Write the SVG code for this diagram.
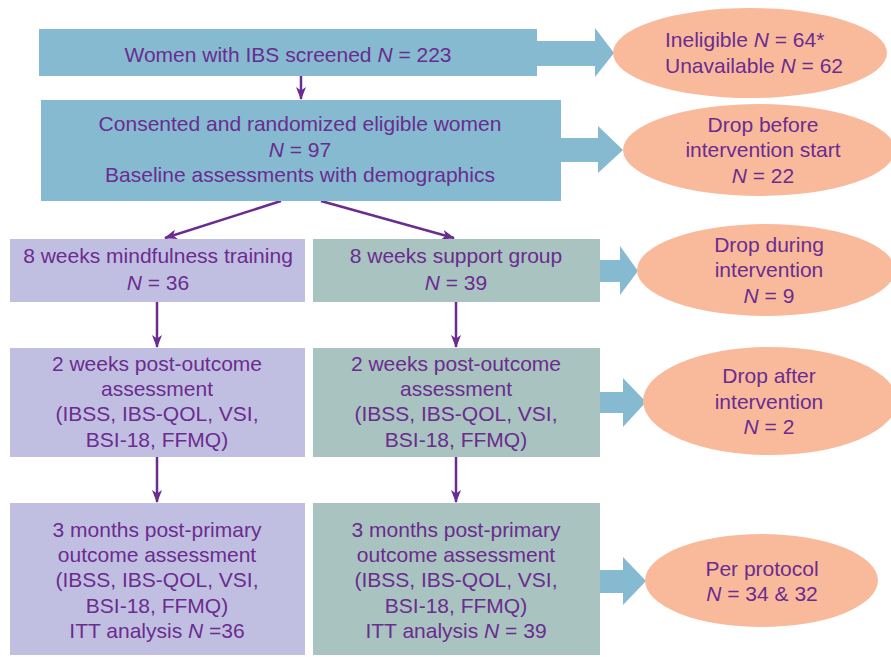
<svg xmlns="http://www.w3.org/2000/svg" width="891" height="657" viewBox="0 0 891 657">
<defs>
<style>
.t{font-family:"Liberation Sans",Arial,sans-serif;font-size:21px;fill:#6B2C8F;text-anchor:middle}
.l{text-anchor:start}
.i{font-style:italic}
.blue{fill:#85BAD1}
.lav{fill:#C1BFE1}
.teal{fill:#A8C3C0}
.ell{fill:#F9BA9C}
.fat{fill:#85BAD1}
.con{stroke:#6B2C8F;stroke-width:2.5;fill:none;marker-end:url(#ah)}
</style>
<marker id="ah" viewBox="0 0 13 10" refX="12" refY="5" markerWidth="13" markerHeight="10" markerUnits="userSpaceOnUse" orient="auto">
<path d="M0,0 L13,5 L0,10 L3.5,5 Z" fill="#6B2C8F"/>
</marker>
</defs>
<rect width="891" height="657" fill="#fff"/>
<g id="connectors">
<line class="con" x1="301" y1="76" x2="301" y2="99"/>
<line class="con" x1="281" y1="201" x2="165" y2="238"/>
<line class="con" x1="321" y1="201" x2="454" y2="238"/>
<line class="con" x1="157" y1="302" x2="157" y2="347"/>
<line class="con" x1="456" y1="302" x2="456" y2="347"/>
<line class="con" x1="157" y1="457" x2="157" y2="502"/>
<line class="con" x1="456" y1="457" x2="456" y2="502"/>
<polygon class="fat" points="536,41 595,41 595,28 614,53 595,77 595,66 536,66"/>
<polygon class="fat" points="560,138 598,138 598,126 623,150 598,173 598,162 560,162"/>
<polygon class="fat" points="599,260 620,260 620,246 638,271 620,295 620,282 599,282"/>
<polygon class="fat" points="599,392 623,392 623,378 646,402 623,427 623,413 599,413"/>
<polygon class="fat" points="599,570 623,570 623,557 646,581 623,605 623,593 599,593"/>
</g>
<g id="screened">
<rect class="blue" x="39" y="29" width="498" height="47"/>
<text class="t" x="288" y="62">Women with IBS screened <tspan class="i">N</tspan> = 223</text>
</g>
<g id="ineligible">
<ellipse class="ell" cx="750" cy="53" rx="137" ry="45"/>
<text class="t l" x="665" y="47">Ineligible <tspan class="i">N</tspan> = 64*</text>
<text class="t l" x="665" y="73">Unavailable <tspan class="i">N</tspan> = 62</text>
</g>
<g id="randomized">
<rect class="blue" x="41" y="100" width="520" height="101"/>
<text class="t" x="300" y="131">Consented and randomized eligible women</text>
<text class="t" x="300" y="157"><tspan class="i">N</tspan> = 97</text>
<text class="t" x="300" y="182">Baseline assessments with demographics</text>
</g>
<g id="drop-before">
<ellipse class="ell" cx="759" cy="150" rx="136" ry="46"/>
<text class="t" x="763" y="132">Drop before</text>
<text class="t" x="763" y="157">intervention start</text>
<text class="t" x="763" y="183"><tspan class="i">N</tspan> = 22</text>
</g>
<g id="mindfulness">
<rect class="lav" x="10" y="239" width="295" height="63"/>
<text class="t" x="158" y="263">8 weeks mindfulness training</text>
<text class="t" x="158" y="290"><tspan class="i">N</tspan> = 36</text>
</g>
<g id="support">
<rect class="teal" x="313" y="239" width="287" height="63"/>
<text class="t" x="456" y="263">8 weeks support group</text>
<text class="t" x="456" y="290"><tspan class="i">N</tspan> = 39</text>
</g>
<g id="drop-during">
<ellipse class="ell" cx="766" cy="270" rx="129" ry="46"/>
<text class="t" x="769" y="252">Drop during</text>
<text class="t" x="769" y="277">intervention</text>
<text class="t" x="769" y="303"><tspan class="i">N</tspan> = 9</text>
</g>
<g id="post-mindfulness">
<rect class="lav" x="10" y="348" width="295" height="109"/>
<text class="t" x="157" y="371">2 weeks post-outcome</text>
<text class="t" x="157" y="396">assessment</text>
<text class="t" x="157" y="421">(IBSS, IBS-QOL, VSI,</text>
<text class="t" x="157" y="447">BSI-18, FFMQ)</text>
</g>
<g id="post-support">
<rect class="teal" x="313" y="348" width="287" height="109"/>
<text class="t" x="456" y="371">2 weeks post-outcome</text>
<text class="t" x="456" y="396">assessment</text>
<text class="t" x="456" y="421">(IBSS, IBS-QOL, VSI,</text>
<text class="t" x="456" y="447">BSI-18, FFMQ)</text>
</g>
<g id="drop-after">
<ellipse class="ell" cx="770" cy="401" rx="127" ry="54"/>
<text class="t" x="769" y="383">Drop after</text>
<text class="t" x="769" y="409">intervention</text>
<text class="t" x="769" y="434"><tspan class="i">N</tspan> = 2</text>
</g>
<g id="followup-mindfulness">
<rect class="lav" x="10" y="503" width="295" height="152"/>
<text class="t" x="157" y="537">3 months post-primary</text>
<text class="t" x="157" y="562">outcome assessment</text>
<text class="t" x="157" y="587">(IBSS, IBS-QOL, VSI,</text>
<text class="t" x="157" y="613">BSI-18, FFMQ)</text>
<text class="t" x="157" y="638">ITT analysis <tspan class="i">N</tspan> =36</text>
</g>
<g id="followup-support">
<rect class="teal" x="313" y="503" width="287" height="152"/>
<text class="t" x="456" y="537">3 months post-primary</text>
<text class="t" x="456" y="562">outcome assessment</text>
<text class="t" x="456" y="587">(IBSS, IBS-QOL, VSI,</text>
<text class="t" x="456" y="613">BSI-18, FFMQ)</text>
<text class="t" x="456" y="638">ITT analysis <tspan class="i">N</tspan> = 39</text>
</g>
<g id="per-protocol">
<ellipse class="ell" cx="761.5" cy="580.5" rx="116.5" ry="46.5"/>
<text class="t" x="762" y="576">Per protocol</text>
<text class="t" x="762" y="601"><tspan class="i">N</tspan> = 34 &amp; 32</text>
</g>
</svg>
